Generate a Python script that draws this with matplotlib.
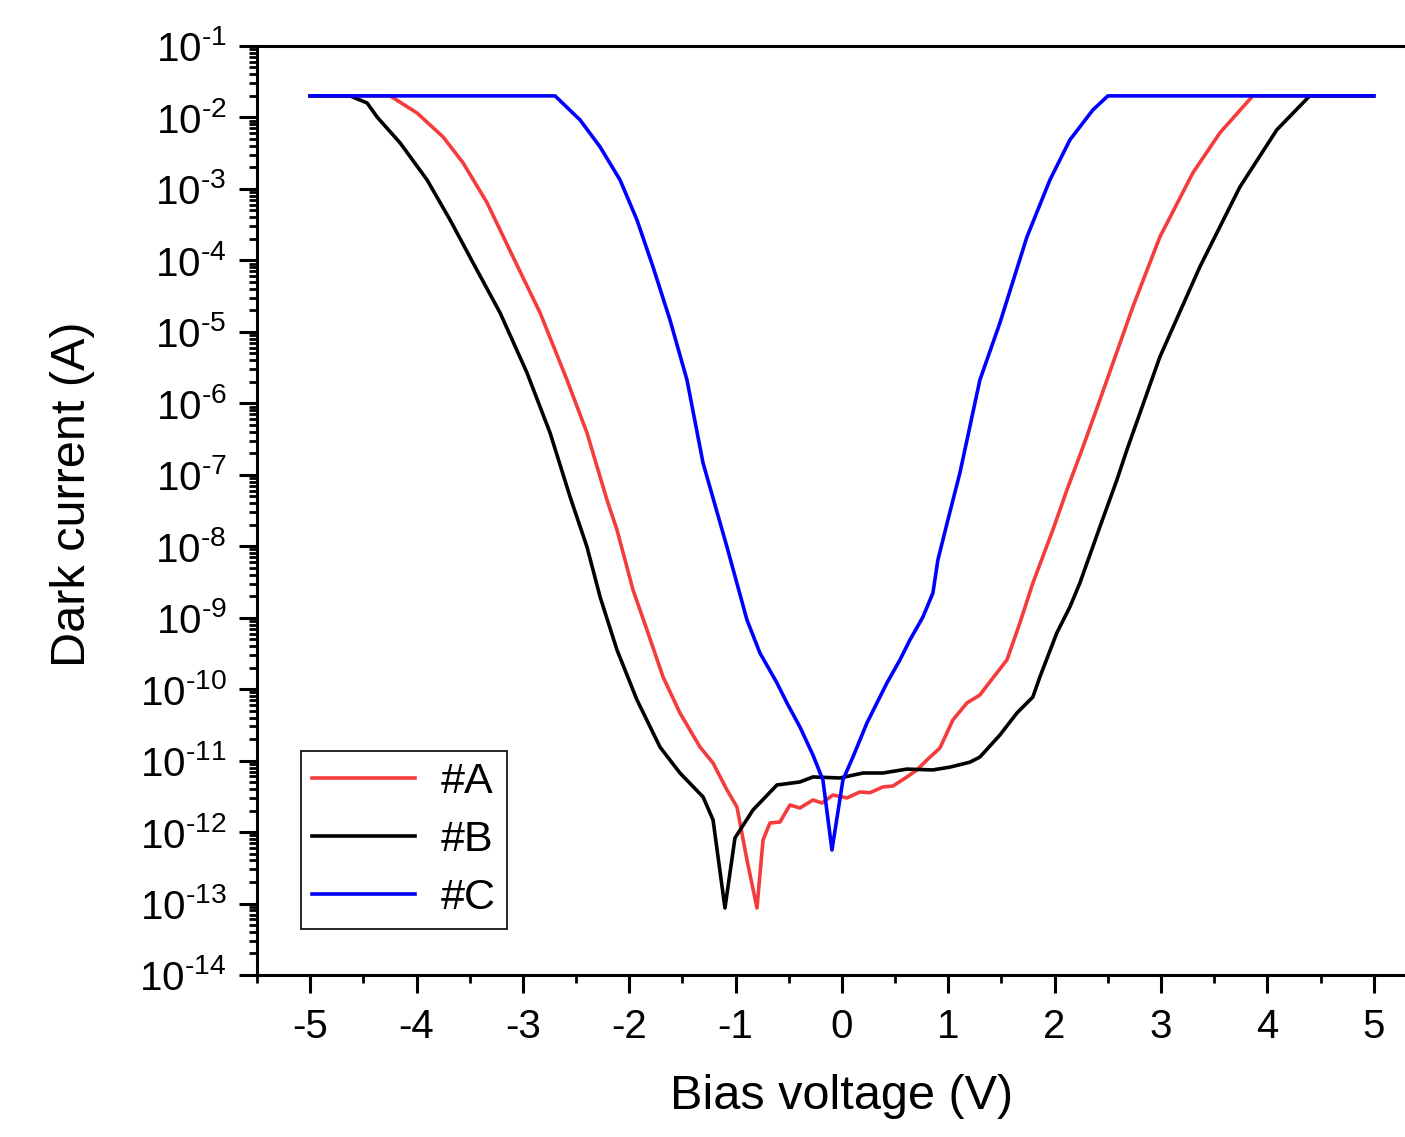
import matplotlib
matplotlib.use("Agg")
import matplotlib.pyplot as plt
import numpy as np
from matplotlib.ticker import LogLocator, MultipleLocator, NullFormatter, FuncFormatter

plt.rcParams["font.family"] = ["Liberation Sans", "DejaVu Sans"]
plt.rcParams["axes.unicode_minus"] = False
plt.rcParams["mathtext.fontset"] = "custom"
plt.rcParams["mathtext.rm"] = "Liberation Sans"

# ── data (bias voltage in V, dark current in A) ──
v_a = [-5.0, -4.248, -3.994, -3.750, -3.562, -3.336, -3.092, -2.838, -2.585, -2.397,
       -2.209, -2.115, -1.964, -1.833, -1.682, -1.523, -1.335, -1.212, -1.081, -0.987,
       -0.893, -0.799, -0.742, -0.677, -0.583, -0.489, -0.395, -0.273, -0.188, -0.085,
       0.047, 0.169, 0.263, 0.385, 0.479, 0.611, 0.705, 0.799, 0.921, 1.043,
       1.175, 1.297, 1.419, 1.551, 1.673, 1.795, 1.983, 2.115, 2.256, 2.425,
       2.735, 2.989, 3.299, 3.553, 3.863, 5.0]
i_a = [2e-2, 2e-2, 1.15e-2, 5.33e-3, 2.31e-3, 6.36e-4, 1.11e-4, 1.84e-5, 2.12e-6, 3.84e-7,
       4.43e-8, 1.69e-8, 2.44e-9, 6.73e-10, 1.48e-10, 4.63e-11, 1.55e-11, 9.25e-12, 3.88e-12, 2.24e-12,
       4.07e-13, 8.65e-14, 7.74e-13, 1.34e-12, 1.38e-12, 2.39e-12, 2.17e-12, 2.81e-12, 2.55e-12, 3.3e-12,
       3.0e-12, 3.64e-12, 3.55e-12, 4.28e-12, 4.4e-12, 5.9e-12, 7.4e-12, 1.02e-11, 1.5e-11, 3.7e-11,
       6.4e-11, 8.28e-11, 1.43e-10, 2.56e-10, 8.43e-10, 3.05e-9, 1.69e-8, 6.12e-8, 2.22e-7, 1.11e-6,
       2.23e-5, 2.12e-4, 1.67e-3, 6.07e-3, 2e-2, 2e-2]

v_b = [-5.0, -4.624, -4.464, -4.370, -4.154, -3.900, -3.684, -3.468, -3.214, -2.961,
       -2.744, -2.556, -2.397, -2.274, -2.115, -1.927, -1.711, -1.523, -1.306, -1.212,
       -1.100, -1.006, -0.836, -0.611, -0.395, -0.273, -0.019, 0.197, 0.385, 0.611,
       0.855, 1.015, 1.203, 1.297, 1.485, 1.645, 1.795, 1.861, 2.020, 2.143,
       2.237, 2.425, 2.585, 2.679, 2.989, 3.365, 3.741, 4.088, 4.398, 5.0]
i_b = [2e-2, 2e-2, 1.59e-2, 1.01e-2, 4.39e-3, 1.33e-3, 3.67e-4, 9.2e-5, 1.84e-5, 2.66e-6,
       3.84e-7, 4.89e-8, 9.75e-9, 1.95e-9, 3.53e-10, 7.05e-11, 1.55e-11, 6.7e-12, 3.1e-12, 1.48e-12,
       8.65e-14, 8.26e-13, 2.04e-12, 4.56e-12, 5.02e-12, 5.9e-12, 5.71e-12, 6.7e-12, 6.7e-12, 7.6e-12,
       7.4e-12, 8.1e-12, 9.5e-12, 1.12e-11, 2.28e-11, 4.63e-11, 7.76e-11, 1.48e-10, 6.1e-10, 1.41e-9,
       3.05e-9, 1.86e-8, 8.45e-8, 2.22e-7, 4.45e-6, 8.1e-5, 1.06e-3, 6.68e-3, 2e-2, 2e-2]

v_c = [-5.0, -2.697, -2.462, -2.274, -2.086, -1.927, -1.776, -1.617, -1.457, -1.306,
       -1.081, -0.893, -0.771, -0.611, -0.517, -0.395, -0.273, -0.179, -0.094, 0.009,
       0.103, 0.235, 0.423, 0.545, 0.639, 0.761, 0.855, 0.902, 0.996, 1.109,
       1.297, 1.485, 1.739, 1.955, 2.143, 2.359, 2.500, 5.0]
i_c = [2e-2, 2e-2, 9.2e-3, 3.86e-3, 1.33e-3, 3.67e-4, 8.07e-5, 1.47e-5, 2.12e-6, 1.46e-7,
       9.75e-9, 9.3e-10, 3.2e-10, 1.22e-10, 6.4e-11, 2.95e-11, 1.2e-11, 5.35e-12, 5.6e-13, 5.35e-12,
       1.12e-11, 3.36e-11, 1.22e-10, 2.56e-10, 4.88e-10, 1.02e-9, 2.21e-9, 6.41e-9, 2.33e-8, 1.06e-7,
       2.12e-6, 1.33e-5, 2.12e-4, 1.33e-3, 4.84e-3, 1.27e-2, 2e-2, 2e-2]

labels = ["#A", "#B", "#C"]
colors = ["#F53C3C", "black", "#0000FF"]


def pow10(y, _pos):
    # Origin-style label: plain hyphen in the exponent
    e = int(round(np.log10(y)))
    return r"10$^{\text{%d}}$" % e


fig = plt.figure(figsize=(14.05, 11.37), dpi=100)
# right edge sits past the canvas, as in the cropped original
ax = fig.add_axes([0.1829, 0.1425, 0.8327, 0.8171])

for v, i, lab, c in zip([v_a, v_b, v_c], [i_a, i_b, i_c], labels, colors):
    ax.plot(v, i, color=c, lw=2.6, label=lab, solid_joinstyle="round")

ax.set_yscale("log")
ax.set_xlim(-5.5, 5.5)
ax.set_ylim(1e-14, 1e-1)
ax.xaxis.set_major_locator(MultipleLocator(1))
ax.xaxis.set_minor_locator(MultipleLocator(0.5))
ax.yaxis.set_major_locator(LogLocator(base=10, numticks=30))
ax.yaxis.set_major_formatter(FuncFormatter(pow10))
ax.yaxis.set_minor_locator(LogLocator(base=10, subs=range(2, 10), numticks=30))
ax.yaxis.set_minor_formatter(NullFormatter())

for s in ax.spines.values():
    s.set_linewidth(2.2)
ax.tick_params(which="major", direction="out", length=13, width=2.2, labelsize=29)
ax.tick_params(which="minor", direction="out", length=6, width=2.0)
ax.tick_params(axis="x", which="major", pad=11)
ax.tick_params(axis="y", which="major", pad=9)

ax.set_xlabel("Bias voltage (V)", fontsize=35, va="center")
ax.set_ylabel("Dark current (A)", fontsize=35, va="center")
ax.xaxis.set_label_coords(0.5, -0.131)
ax.yaxis.set_label_coords(-0.158, 0.517)

leg = ax.legend(loc="lower left", bbox_to_anchor=(0.0376, 0.0495), borderaxespad=0,
                fontsize=31, handlelength=2.4, handletextpad=0.6, borderpad=0.25,
                labelspacing=0.42, fancybox=False, framealpha=1)
leg.get_frame().set_edgecolor("black")
leg.get_frame().set_linewidth(1.2)

fig.savefig("out.png", dpi=100)
